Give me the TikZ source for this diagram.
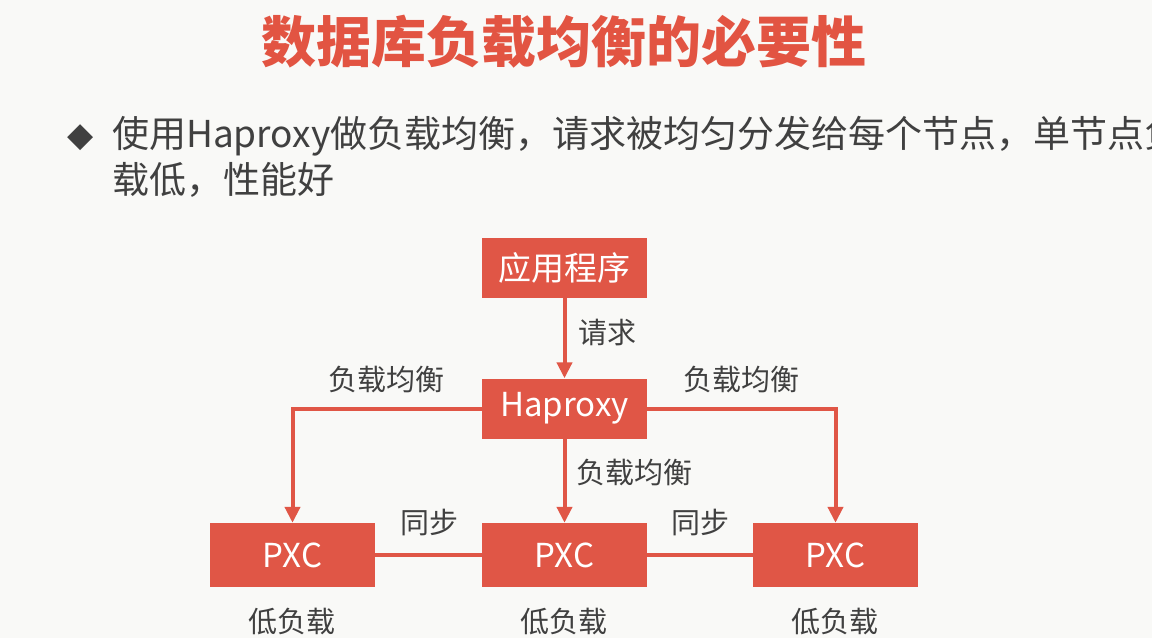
\documentclass[tikz,border=0pt]{standalone}
\usepackage{fontspec}
\setmainfont{Noto Sans CJK SC}
\newfontfamily\symfont{DejaVu Sans}
\usetikzlibrary{arrows.meta}
\definecolor{boxred}{RGB}{224,86,70}
\definecolor{titlered}{RGB}{226,84,66}
\definecolor{txtgray}{RGB}{64,64,64}
\definecolor{bg}{RGB}{249,249,247}
\tikzset{
  box/.style={fill=boxred,draw=none,minimum width=165pt,minimum height=60pt,inner sep=0pt,text=white,font=\fontsize{33}{36}\selectfont},
  pxcbox/.style={box,minimum height=64pt},
  lbl/.style={text=txtgray,font=\fontsize{29}{32}\selectfont,inner sep=0pt},
  arr/.style={draw=boxred,line width=4pt,-{Triangle[length=16pt,width=15pt]}},
  sync/.style={draw=boxred,line width=4pt}
}
\begin{document}
\begin{tikzpicture}[x=1pt,y=-1pt]
\fill[bg] (0,0) rectangle (1152,638);
\useasboundingbox (0,0) rectangle (1152,638);
\clip (0,0) rectangle (1152,638);
% title
\node[text=titlered,font=\fontsize{55}{60}\selectfont\bfseries,inner sep=0pt] (title) at (564,42) {数据库负载均衡的必要性};
% bullet
\node[text=txtgray,font=\symfont\fontsize{34}{38}\selectfont,inner sep=0pt] (bul) at (81,138) {◆};
\node[text=txtgray,font=\fontsize{37}{46}\selectfont,inner sep=0pt,anchor=north west,align=left] (para) at (112,116) {使用Haproxy做负载均衡，请求被均匀分发给每个节点，单节点负\\载低，性能好};
% boxes
\node[box] (app) at (564.5,268) {应用程序};
\node[box] (hap) at (564.5,408.5) {Haproxy};
\node[pxcbox] (p1) at (292.5,555) {PXC};
\node[pxcbox] (p2) at (564.5,555) {PXC};
\node[pxcbox] (p3) at (835.5,555) {PXC};
% connectors
\draw[arr] (app) -- (hap);
\draw[arr] (hap.west) -| (p1.north);
\draw[arr] (hap.east) -| (p3.north);
\draw[arr] (hap) -- (p2);
\draw[sync] (p1) -- (p2);
\draw[sync] (p2) -- (p3);
% labels
\node[lbl] (l1) at (607,333) {请求};
\node[lbl] (l2) at (386,379) {负载均衡};
\node[lbl] (l3) at (741,379) {负载均衡};
\node[lbl] (l4) at (634,472) {负载均衡};
\node[lbl] (l5) at (429,522) {同步};
\node[lbl] (l6) at (700,522) {同步};
\node[lbl] (l7) at (292,622) {低负载};
\node[lbl] (l8) at (564,622) {低负载};
\node[lbl] (l9) at (835,622) {低负载};
\end{tikzpicture}
\end{document}
